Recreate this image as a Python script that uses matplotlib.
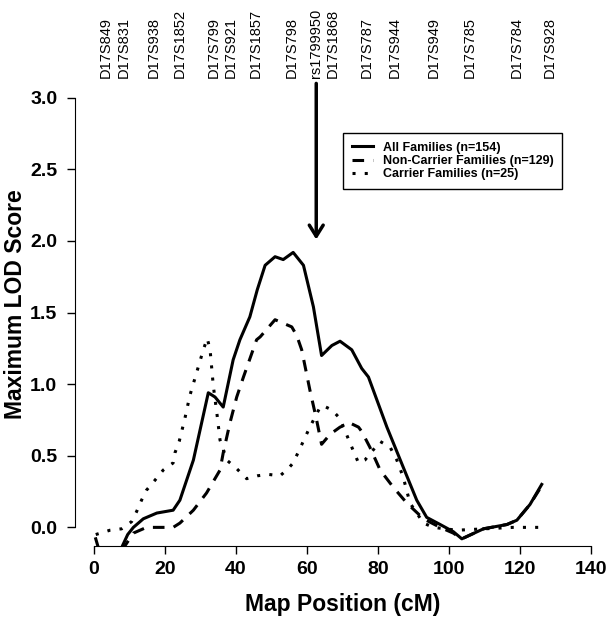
import matplotlib.pyplot as plt

plt.rcParams['font.family'] = 'Liberation Sans'
plt.rcParams['font.weight'] = 'bold'

# marker map along the top
markers = ['D17S849', 'D17S831', 'D17S938', 'D17S1852', 'D17S799', 'D17S921',
           'D17S1857', 'D17S798', 'rs1799950', 'D17S1868', 'D17S787', 'D17S944',
           'D17S949', 'D17S785', 'D17S784', 'D17S928']
marker_cm = [3.2, 8.4, 16.7, 24.2, 33.8, 38.4, 45.6, 55.7, 62.6, 67.2, 76.8,
             84.8, 95.6, 105.7, 119.1, 128.5]
arrow_cm = 62.6

# All Families (n=154)
all_x = [0.5, 2.5, 5.0, 7.2, 8.0, 9.5, 11.1, 13.9, 17.7, 22.3, 24.2, 28.0, 32.2,
         34.1, 36.4, 39.2, 41.1, 43.9, 46.0, 48.2, 51.0, 53.3, 56.1, 59.0, 61.8,
         64.1, 67.0, 69.3, 72.6, 75.4, 77.3, 82.5, 87.1, 90.9, 93.7, 97.5, 101.2,
         103.6, 109.7, 116.3, 119.1, 122.8, 126.1]
all_y = [-0.08, -0.25, -0.40, -0.25, -0.13, -0.05, 0.00, 0.06, 0.10, 0.12, 0.19,
         0.47, 0.94, 0.91, 0.84, 1.17, 1.31, 1.47, 1.66, 1.83, 1.89, 1.87, 1.92,
         1.83, 1.54, 1.20, 1.27, 1.30, 1.24, 1.11, 1.05, 0.70, 0.42, 0.19, 0.07,
         0.02, -0.03, -0.08, -0.01, 0.02, 0.05, 0.16, 0.30]

# Non-Carrier Families (n=129)
nc_x = [6.0, 8.7, 11.1, 14.8, 22.3, 24.2, 28.0, 31.7, 35.5, 36.4, 38.3, 40.2,
        42.1, 45.8, 46.8, 51.0, 55.7, 57.1, 58.5, 60.8, 62.7, 64.1, 66.5, 69.3,
        72.0, 74.5, 75.4, 77.7, 80.6, 84.3, 88.1, 92.8, 97.5, 101.2, 103.6,
        109.7, 116.3, 119.1, 122.8, 126.1]
nc_y = [-0.30, -0.13, -0.04, 0.00, 0.00, 0.03, 0.12, 0.24, 0.40, 0.52, 0.73,
        0.91, 1.05, 1.31, 1.33, 1.45, 1.40, 1.34, 1.24, 0.96, 0.75, 0.58, 0.65,
        0.70, 0.73, 0.70, 0.67, 0.56, 0.40, 0.28, 0.17, 0.06, 0.00, -0.04,
        -0.08, -0.01, 0.02, 0.05, 0.16, 0.29]

# Carrier Families (n=25)
c_x = [0.5, 4.5, 7.8, 10.6, 12.0, 13.4, 14.8, 17.2, 19.5, 22.3, 22.8, 24.0,
       25.6, 27.0, 28.9, 30.8, 31.9, 32.7, 33.6, 34.6, 35.5, 37.4, 40.2, 43.0,
       46.0, 49.1, 52.4, 54.7, 56.1, 58.0, 60.8, 63.7, 64.5, 67.0, 69.3, 72.1,
       74.5, 76.3, 80.6, 83.4, 85.3, 87.1, 89.0, 92.8, 95.6, 102.2, 110.0,
       118.0, 125.5]
c_y = [-0.05, -0.02, -0.01, 0.04, 0.11, 0.19, 0.26, 0.33, 0.40, 0.45, 0.52,
       0.60, 0.76, 0.92, 1.08, 1.24, 1.32, 1.24, 0.99, 0.80, 0.61, 0.47, 0.41,
       0.34, 0.36, 0.37, 0.36, 0.41, 0.45, 0.55, 0.70, 0.84, 0.85, 0.82, 0.76,
       0.59, 0.45, 0.47, 0.60, 0.56, 0.47, 0.35, 0.17, 0.03, 0.00, -0.02,
       -0.01, 0.00, 0.00]

fig = plt.figure(figsize=(6.12, 6.22), dpi=100)
ax = fig.add_axes([0.1225, 0.1222, 0.8758, 0.7492])

lw = 2.2
ax.plot(all_x, all_y, color='black', lw=lw, label='All Families (n=154)')
ax.plot(nc_x, nc_y, color='black', lw=lw, linestyle=(0, (3.8, 3)),
        label='Non-Carrier Families (n=129)')
ax.plot(c_x, c_y, color='black', lw=lw, linestyle=(0, (1, 3)),
        label='Carrier Families (n=25)')

ax.set_xlim(-5.35, 145.6)
ax.set_ylim(-0.13, 3.124)
for s in ['top', 'right']:
    ax.spines[s].set_visible(False)
ax.spines['left'].set_bounds(0, 3)
ax.spines['bottom'].set_bounds(0, 140)
ax.set_xticks(range(0, 141, 20))
ax.set_yticks([0, 0.5, 1.0, 1.5, 2.0, 2.5, 3.0])
ax.set_yticklabels(['%.1f' % v for v in ax.get_yticks()])
ax.tick_params(length=5.8, width=1, labelsize=14)
ax.tick_params(axis='x', pad=5)
ax.tick_params(axis='y', pad=7)

ax.set_xlabel('Map Position (cM)', fontsize=16.5, fontweight='bold', labelpad=11)
ax.set_ylabel('Maximum LOD Score', fontsize=16.5, fontweight='bold')
ax.yaxis.set_label_coords(-0.09, 0.52)

# marker names above the plot
for name, x in zip(markers, marker_cm):
    ax.annotate(name, xy=(x, 1), xycoords=('data', 'axes fraction'),
                xytext=(0, 1.5), textcoords='offset points', rotation=90,
                ha='center', va='bottom', fontsize=10.5, fontweight='normal',
                annotation_clip=False)

ax.annotate('', xy=(arrow_cm, 2.01), xytext=(arrow_cm, 3.10),
            arrowprops=dict(arrowstyle='->,head_length=0.8,head_width=0.5',
                            lw=2.5, color='black', shrinkA=0, shrinkB=0),
            annotation_clip=False)

leg = ax.legend(loc='upper left', bbox_to_anchor=(0.5, 0.886), fancybox=False,
                edgecolor='black', fontsize=9, handlelength=1.7,
                handletextpad=0.8, labelspacing=0.1, borderpad=0.7,
                borderaxespad=0)
leg.get_frame().set_linewidth(1)
leg.get_frame().set_alpha(1)

fig.savefig('out.png', dpi=100)
